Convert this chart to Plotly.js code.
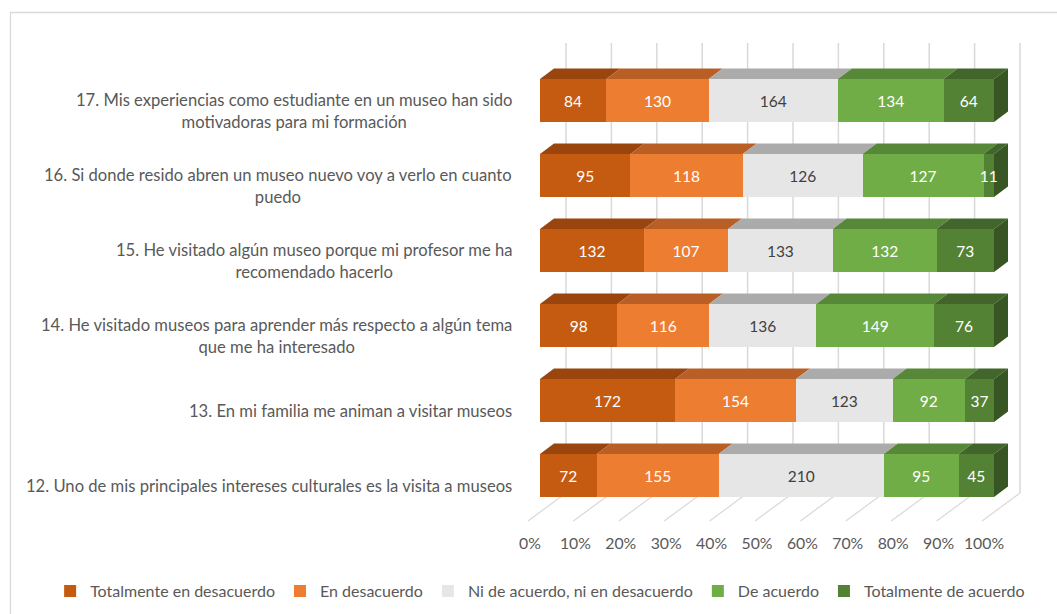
<!DOCTYPE html>
<html>
<head>
<meta charset="utf-8">
<script src="https://cdn.plot.ly/plotly-3.0.1.min.js"></script>
<style>html,body{margin:0;padding:0;background:#fff;}#chart{width:1057px;height:614px;}</style>
</head>
<body>
<div id="chart"></div>
<script>
// ---- data (bottom to top) ----
const categories = [
  "12. Uno de mis principales intereses culturales es la visita a museos",
  "13. En mi familia me animan a visitar museos",
  "14. He visitado museos para aprender más respecto a algún tema<br>que me ha interesado",
  "15. He visitado algún museo porque mi profesor me ha<br>recomendado hacerlo",
  "16. Si donde resido abren un museo nuevo voy a verlo en cuanto<br>puedo",
  "17. Mis experiencias como estudiante en un museo han sido<br>motivadoras para mi formación"
];
const seriesNames = ["Totalmente en desacuerdo","En desacuerdo","Ni de acuerdo, ni en desacuerdo","De acuerdo","Totalmente de acuerdo"];
const totDesacuerdo = [72, 172, 98, 132, 95, 84];
const enDesacuerdo  = [155, 154, 116, 107, 118, 130];
const niNi          = [210, 123, 136, 133, 126, 164];
const deAcuerdo     = [95, 92, 149, 132, 127, 134];
const totAcuerdo    = [45, 37, 76, 73, 11, 64];
const tickValues = [0,10,20,30,40,50,60,70,80,90,100];

// ---- styles ----
const frontColors = ["#C55A11","#ED7D31","#E7E6E6","#70AD47","#548235"];
const topColors   = ["#9A440E","#B95F26","#ABABAB","#568838","#41652A"];
const sideColor   = "#375623";
const textColors  = ["#FFFFFF","#FFFFFF","#404040","#FFFFFF","#FFFFFF"];
const FONT = "Lato, 'Open Sans', sans-serif";

const W = 1057, H = 614;
const plotL = 540, plotR = 1024, plotT = 63, plotB = 513;
const plotW = plotR - plotL, plotH = plotB - plotT;
const pxPerUnit = 454 / 100;           // 100% spans 454 px
const xMax = plotW / pxPerUnit;
const barWidth = 0.573;
const depthX = 14 / pxPerUnit;          // bar depth offset (data units)
const depthY = 10.5 / (plotH / 6);

const px2paperX = px => px / W;
const py2paperY = py => 1 - py / H;

const allSeries = [totDesacuerdo, enDesacuerdo, niNi, deAcuerdo, totAcuerdo];
const yIdx = categories.map((c,i)=>i);

const traces = allSeries.map((vals, j) => ({
  type: 'bar', orientation: 'h', name: seriesNames[j],
  x: vals, y: yIdx, width: barWidth,
  marker: {color: frontColors[j], line: {width: 0}},
  text: vals.map(String), textposition: 'inside', insidetextanchor: 'middle',
  constraintext: 'none', cliponaxis: false,
  textfont: {family: FONT, size: 15.5, color: textColors[j]},
  hoverinfo: 'x+name'
}));

// ---- shapes ----
const shapes = [];
shapes.push({type:'rect', xref:'paper', yref:'paper', layer:'below',
  x0: px2paperX(10.5), x1: px2paperX(1075), y0: py2paperY(12.5), y1: py2paperY(640),
  line:{color:'#D9D9D9', width:1.3}, fillcolor:'rgba(0,0,0,0)'});
const gridColor = '#D9D9D9';
tickValues.forEach(t => {
  const backPx = 566 + t * pxPerUnit;
  const frontPx = 528 + t * pxPerUnit;
  shapes.push({type:'line', xref:'paper', yref:'paper', layer:'below',
    x0: px2paperX(backPx), x1: px2paperX(backPx), y0: py2paperY(43), y1: py2paperY(493),
    line:{color:gridColor, width:1.5}});
  shapes.push({type:'line', xref:'paper', yref:'paper', layer:'below',
    x0: px2paperX(frontPx), x1: px2paperX(backPx), y0: py2paperY(521), y1: py2paperY(493),
    line:{color:gridColor, width:1.2}});
});
yIdx.forEach(i => {
  const total = allSeries.reduce((s, a) => s + a[i], 0);
  let cum = 0;
  const yt = i + barWidth/2, yb = i - barWidth/2;
  allSeries.forEach((a, j) => {
    const x0 = cum / total * 100;
    cum += a[i];
    const x1 = cum / total * 100;
    shapes.push({type:'path', xref:'x', yref:'y', layer:'below',
      path: `M ${x0},${yt} L ${x1},${yt} L ${x1+depthX},${yt+depthY} L ${x0+depthX},${yt+depthY} Z`,
      fillcolor: topColors[j], line:{width:0}});
    if (j === allSeries.length - 1) {
      shapes.push({type:'path', xref:'x', yref:'y', layer:'below',
        path: `M ${x1},${yt} L ${x1+depthX},${yt+depthY} L ${x1+depthX},${yb+depthY} L ${x1},${yb} Z`,
        fillcolor: sideColor, line:{width:0}});
    }
  });
});

// ---- category labels ----
const annotations = categories.map((c, i) => ({
  xref:'paper', yref:'y', x: px2paperX(514), y: i, yshift: -10,
  xanchor:'right', yanchor:'middle', align:'center', showarrow:false,
  text: c, font:{family: FONT, size: 16.6, color:'#595959'}
}));

const layout = {
  width: W, height: H,
  margin: {l:0, r:0, t:0, b:0, pad:0},
  paper_bgcolor:'#FFFFFF', plot_bgcolor:'rgba(0,0,0,0)',
  barmode:'stack', barnorm:'percent',
  xaxis: {domain:[plotL/W, plotR/W], range:[0, xMax], tickvals: tickValues, ticktext: tickValues.map(v => v + '%'),
    showgrid:false, zeroline:false, showline:false, ticks:'', automargin:false,
    ticklabelshift: -10, ticklabelstandoff: 19,
    tickfont:{family: FONT, size: 15.8, color:'#595959'}, fixedrange:true},
  yaxis: {domain:[1 - plotB/H, 1 - plotT/H], range:[-0.5, 5.5], showticklabels:false, showgrid:false,
    zeroline:false, showline:false, ticks:'', automargin:false, fixedrange:true},
  showlegend:true,
  legend: {orientation:'h', x:0.511, y:1-591/614,
    xanchor:'center', yanchor:'middle', traceorder:'normal',
    font:{family: FONT, size: 16, color:'#595959'}, itemwidth:30},
  shapes: shapes, annotations: annotations,
  font:{family: FONT}
};

Plotly.newPlot('chart', traces, layout, {displayModeBar:false, staticPlot:true});
</script>
</body>
</html>
